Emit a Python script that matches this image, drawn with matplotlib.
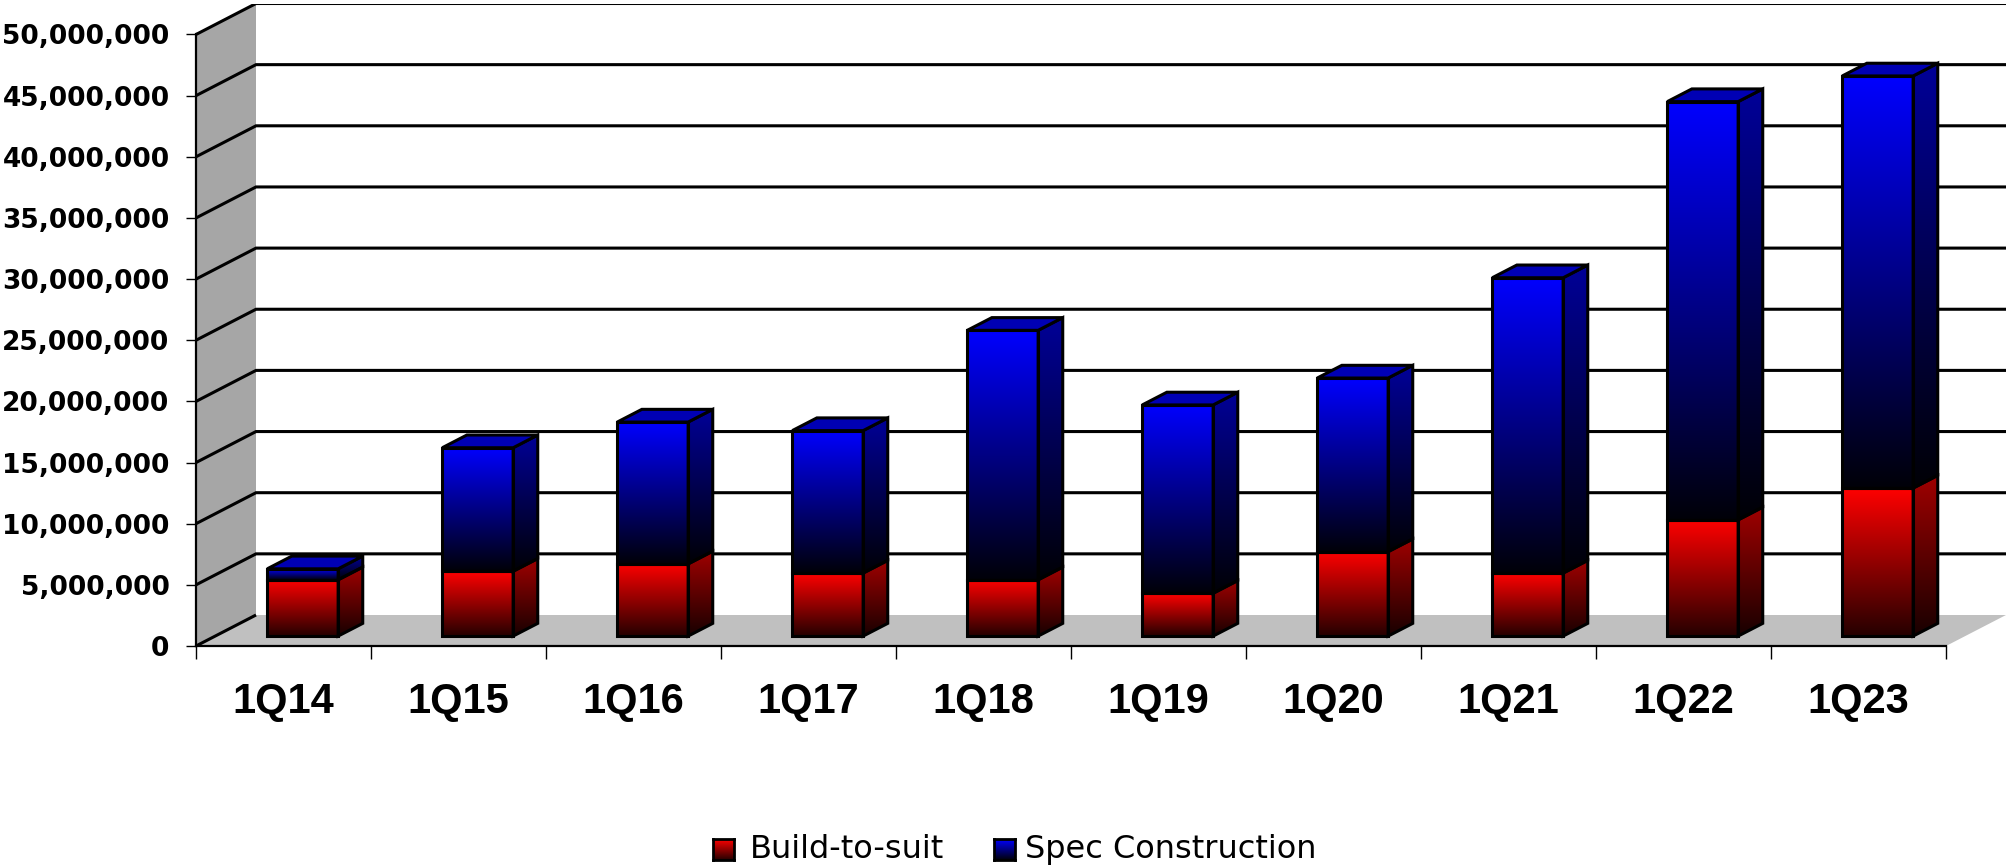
import numpy as np
import matplotlib
matplotlib.use("Agg")
import matplotlib.pyplot as plt
from matplotlib.patches import Polygon
from matplotlib.ticker import FuncFormatter, FixedLocator

# ---- data ----
quarters = ["1Q14", "1Q15", "1Q16", "1Q17", "1Q18", "1Q19", "1Q20", "1Q21", "1Q22", "1Q23"]
build_to_suit = [4.6e6, 5.3e6, 5.9e6, 5.15e6, 4.6e6, 3.5e6, 6.9e6, 5.15e6, 9.5e6, 12.1e6]
spec_construction = [0.9e6, 10.1e6, 11.6e6, 11.65e6, 20.4e6, 15.4e6, 14.2e6, 24.15e6, 34.2e6, 33.7e6]
series_names = ["Build-to-suit", "Spec Construction"]
y_ticks = [0, 5e6, 10e6, 15e6, 20e6, 25e6, 30e6, 35e6, 40e6, 45e6, 50e6]

# ---- geometry (style) ----
W, H = 2009, 867
YMAX = 50e6
PX_PER_CAT = 175.0
PX_PER_VAL = 61.15 / 5e6
DX = 60 / PX_PER_CAT          # depth offset in category units
DY = 31 / PX_PER_VAL          # depth offset in value units
FRONT_FRAC = 0.32             # bar front plane position in depth
DEPTH_FRAC = 0.41             # bar depth
BAR_W = 0.405
LW = 2.2

n = len(quarters)
fig = plt.figure(figsize=(W / 100, H / 100), dpi=100)
left_px, zero_px = 196, 646
ax_w_px = (n + DX) * PX_PER_CAT
ax_h_px = (YMAX + DY) * PX_PER_VAL
ax = fig.add_axes([left_px / W, (H - zero_px) / H, ax_w_px / W, ax_h_px / H])
ax.set_facecolor("white")

# walls and floor
ax.add_patch(Polygon([(0, 0), (DX, DY), (DX, YMAX + DY), (0, YMAX)], closed=True,
                     facecolor="#a6a6a6", edgecolor="none", zorder=0))
ax.add_patch(Polygon([(0, 0), (n, 0), (n + DX, DY), (DX, DY)], closed=True,
                     facecolor="#c0c0c0", edgecolor="none", zorder=0))
for v in y_ticks:
    if v == 0:
        ax.plot([0, DX], [0, DY], color="black", lw=LW, zorder=1, solid_capstyle="butt")
    else:
        ax.plot([0, DX, n + DX], [v, v + DY, v + DY], color="black", lw=LW, zorder=1,
                solid_joinstyle="miter")


def gradient(top, bottom, nrows=256):
    t = np.linspace(0, 1, nrows)[:, None]
    top = np.array(matplotlib.colors.to_rgb(top))
    bottom = np.array(matplotlib.colors.to_rgb(bottom))
    arr = bottom[None, :] * (1 - t) + top[None, :] * t
    return arr[:, None, :]


front_cols = {"red": ("#ff0000", "#250000"), "blue": ("#0000ff", "#000008")}
side_cols = {"red": ("#a00000", "#180000"), "blue": ("#000098", "#000005")}
top_col = "#0000b4"

x_centers = np.arange(n) + 0.5
fx = FRONT_FRAC * DX
fy = FRONT_FRAC * DY
bx = DEPTH_FRAC * DX
by = DEPTH_FRAC * DY

bottoms = np.zeros(n) + fy
series = [("red", build_to_suit), ("blue", spec_construction)]
for si, (cname, vals) in enumerate(series):
    bars = ax.bar(x_centers + fx, vals, width=BAR_W, bottom=bottoms,
                  facecolor="none", edgecolor="black", linewidth=LW, zorder=4)
    for i, rect in enumerate(bars):
        x0 = rect.get_x()
        x1 = x0 + rect.get_width()
        y0 = rect.get_y()
        y1 = y0 + rect.get_height()
        im = ax.imshow(gradient(*front_cols[cname]), extent=(x0, x1, y0, y1),
                       origin="lower", aspect="auto", interpolation="bilinear", zorder=3)
        im.set_clip_path(rect)
        side = Polygon([(x1, y0), (x1 + bx, y0 + by), (x1 + bx, y1 + by), (x1, y1)],
                       closed=True, facecolor="none", edgecolor="black", lw=LW, zorder=4,
                       joinstyle="miter")
        ax.add_patch(side)
        im2 = ax.imshow(gradient(*side_cols[cname]), extent=(x1, x1 + bx, y0, y1 + by),
                        origin="lower", aspect="auto", interpolation="bilinear", zorder=3)
        im2.set_clip_path(side)
        if si == len(series) - 1:
            top = Polygon([(x0, y1), (x0 + bx, y1 + by), (x1 + bx, y1 + by), (x1, y1)],
                          closed=True, facecolor=top_col, edgecolor="black", lw=LW,
                          zorder=4, joinstyle="miter")
            ax.add_patch(top)
    bottoms = bottoms + np.array(vals)

# axes
ax.set_xlim(0, n + DX)
ax.set_ylim(0, YMAX + DY)
for s in ["top", "right"]:
    ax.spines[s].set_visible(False)
ax.spines["left"].set_bounds(0, YMAX)
ax.spines["bottom"].set_bounds(0, n)
ax.spines["left"].set_linewidth(1.6)
ax.spines["bottom"].set_linewidth(1.6)
ax.spines["left"].set_zorder(5)
ax.spines["bottom"].set_zorder(5)
ax.yaxis.set_major_locator(FixedLocator(y_ticks))
ax.yaxis.set_major_formatter(FuncFormatter(lambda v, p: f"{v:,.0f}"))
ax.tick_params(axis="y", direction="out", length=7, width=1.0, pad=12,
               labelsize=19, labelcolor="black")
for lab in ax.get_yticklabels():
    lab.set_fontweight("bold")
    lab.set_fontfamily("DejaVu Sans")

ax.set_xticks(np.arange(n + 1))
ax.set_xticklabels([])
ax.set_xticks(x_centers, minor=True)
ax.set_xticklabels(quarters, minor=True, fontsize=30, fontweight="bold",
                   fontfamily="Liberation Sans")
ax.tick_params(axis="x", which="major", direction="out", length=9, width=1.0)
ax.tick_params(axis="x", which="minor", length=0, pad=26)

# legend (manual, gradient swatches)
leg_items = [(series_names[0], "red", 713, 750), (series_names[1], "blue", 994, 1025)]
for name, cname, sx, tx in leg_items:
    sax = fig.add_axes([sx / W, (H - 860) / H, 21 / W, 21 / H])
    sax.imshow(gradient(*front_cols[cname]), origin="lower", aspect="auto",
               extent=(0, 1, 0, 1), interpolation="bilinear")
    sax.set_xticks([])
    sax.set_yticks([])
    for sp in sax.spines.values():
        sp.set_linewidth(2.0)
        sp.set_color("black")
    fig.text(tx / W, (H - 858) / H, name, fontsize=23, family="DejaVu Sans",
             va="baseline", ha="left", color="black")

fig.savefig("out.png", dpi=100)
